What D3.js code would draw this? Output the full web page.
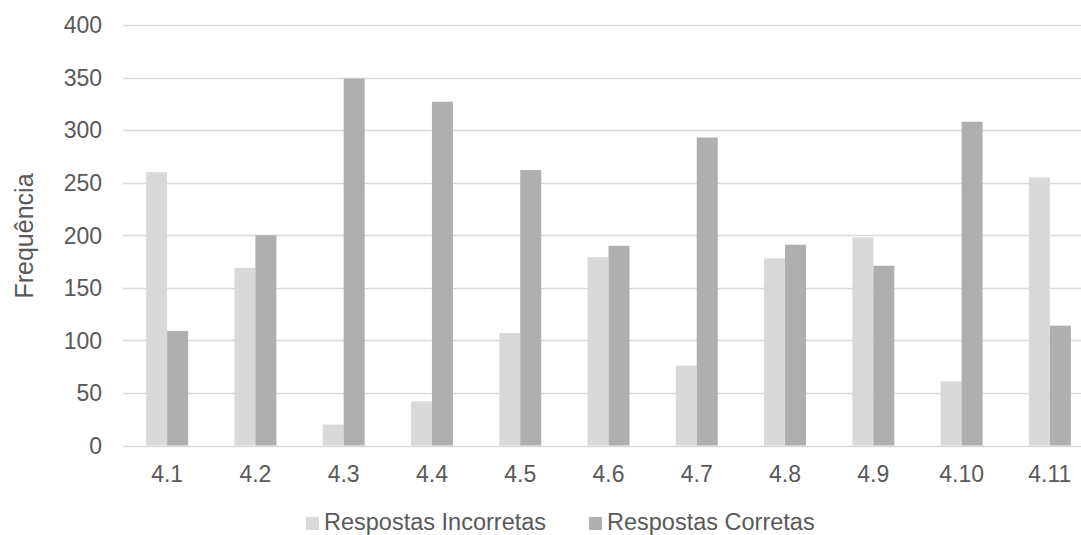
<!DOCTYPE html>
<html>
<head>
<meta charset="utf-8">
<script src="https://cdn.jsdelivr.net/npm/d3@7"></script>
<style>
  body { margin: 0; background: #fff; }
  text { font-family: "Liberation Sans", Arial, sans-serif; fill: #595959; }
</style>
</head>
<body>
<div id="chart"></div>
<script>
// data
var categories = ["4.1","4.2","4.3","4.4","4.5","4.6","4.7","4.8","4.9","4.10","4.11"];
var incorretas = [260, 169, 20, 42, 107, 179, 76, 178, 198, 61, 255];
var corretas   = [109, 200, 349, 327, 262, 190, 293, 191, 171, 308, 114];
var yTicks = [0, 50, 100, 150, 200, 250, 300, 350, 400];
var seriesNames = ["Respostas Incorretas", "Respostas Corretas"];
var seriesColors = ["#d9d9d9", "#afafaf"];

var width = 1081, height = 535;

var svg = d3.select("#chart").append("svg")
    .attr("width", width)
    .attr("height", height);

// plot area runs a little past the right edge, like the original
var xScale = d3.scaleBand()
    .domain(categories)
    .range([123, 1094]);

var yScale = d3.scaleLinear()
    .domain([0, 400])
    .range([445.5, 25]);

var barW = 21;

// gridlines
svg.append("g").selectAll("line")
    .data(yTicks)
  .enter().append("line")
    .attr("x1", 123)
    .attr("x2", width)
    .attr("y1", function(d) { return Math.round(yScale(d)) + 0.5; })
    .attr("y2", function(d) { return Math.round(yScale(d)) + 0.5; })
    .style("stroke", "#d9d9d9")
    .style("stroke-width", 1.5);

// y labels
svg.append("g").selectAll("text")
    .data(yTicks)
  .enter().append("text")
    .attr("x", 102)
    .attr("y", function(d) { return yScale(d); })
    .attr("dy", "0.36em")
    .attr("text-anchor", "end")
    .style("font-size", "23px")
    .text(function(d) { return d; });

// bars
var series = [incorretas, corretas];
series.forEach(function(vals, s) {
  svg.append("g").selectAll("rect")
      .data(vals)
    .enter().append("rect")
      .attr("x", function(d, i) { return xScale(categories[i]) + xScale.bandwidth() / 2 - barW + s * barW; })
      .attr("y", function(d) { return yScale(d); })
      .attr("width", barW)
      .attr("height", function(d) { return yScale(0) - yScale(d); })
      .style("fill", seriesColors[s]);
});

// x labels
svg.append("g").selectAll("text")
    .data(categories)
  .enter().append("text")
    .attr("x", function(d) { return xScale(d) + xScale.bandwidth() / 2; })
    .attr("y", 482)
    .attr("text-anchor", "middle")
    .style("font-size", "23px")
    .text(function(d) { return d; });

// axis title
svg.append("text")
    .attr("transform", "translate(33,236) rotate(-90)")
    .attr("text-anchor", "middle")
    .style("font-size", "25px")
    .text("Frequência");

// legend
var legendX = [306, 589];
seriesNames.forEach(function(name, s) {
  svg.append("rect")
      .attr("x", legendX[s])
      .attr("y", 517)
      .attr("width", 13)
      .attr("height", 13)
      .style("fill", seriesColors[s]);
  svg.append("text")
      .attr("x", legendX[s] + 18)
      .attr("y", 530)
      .style("font-size", "23.5px")
      .text(name);
});
</script>
</body>
</html>
